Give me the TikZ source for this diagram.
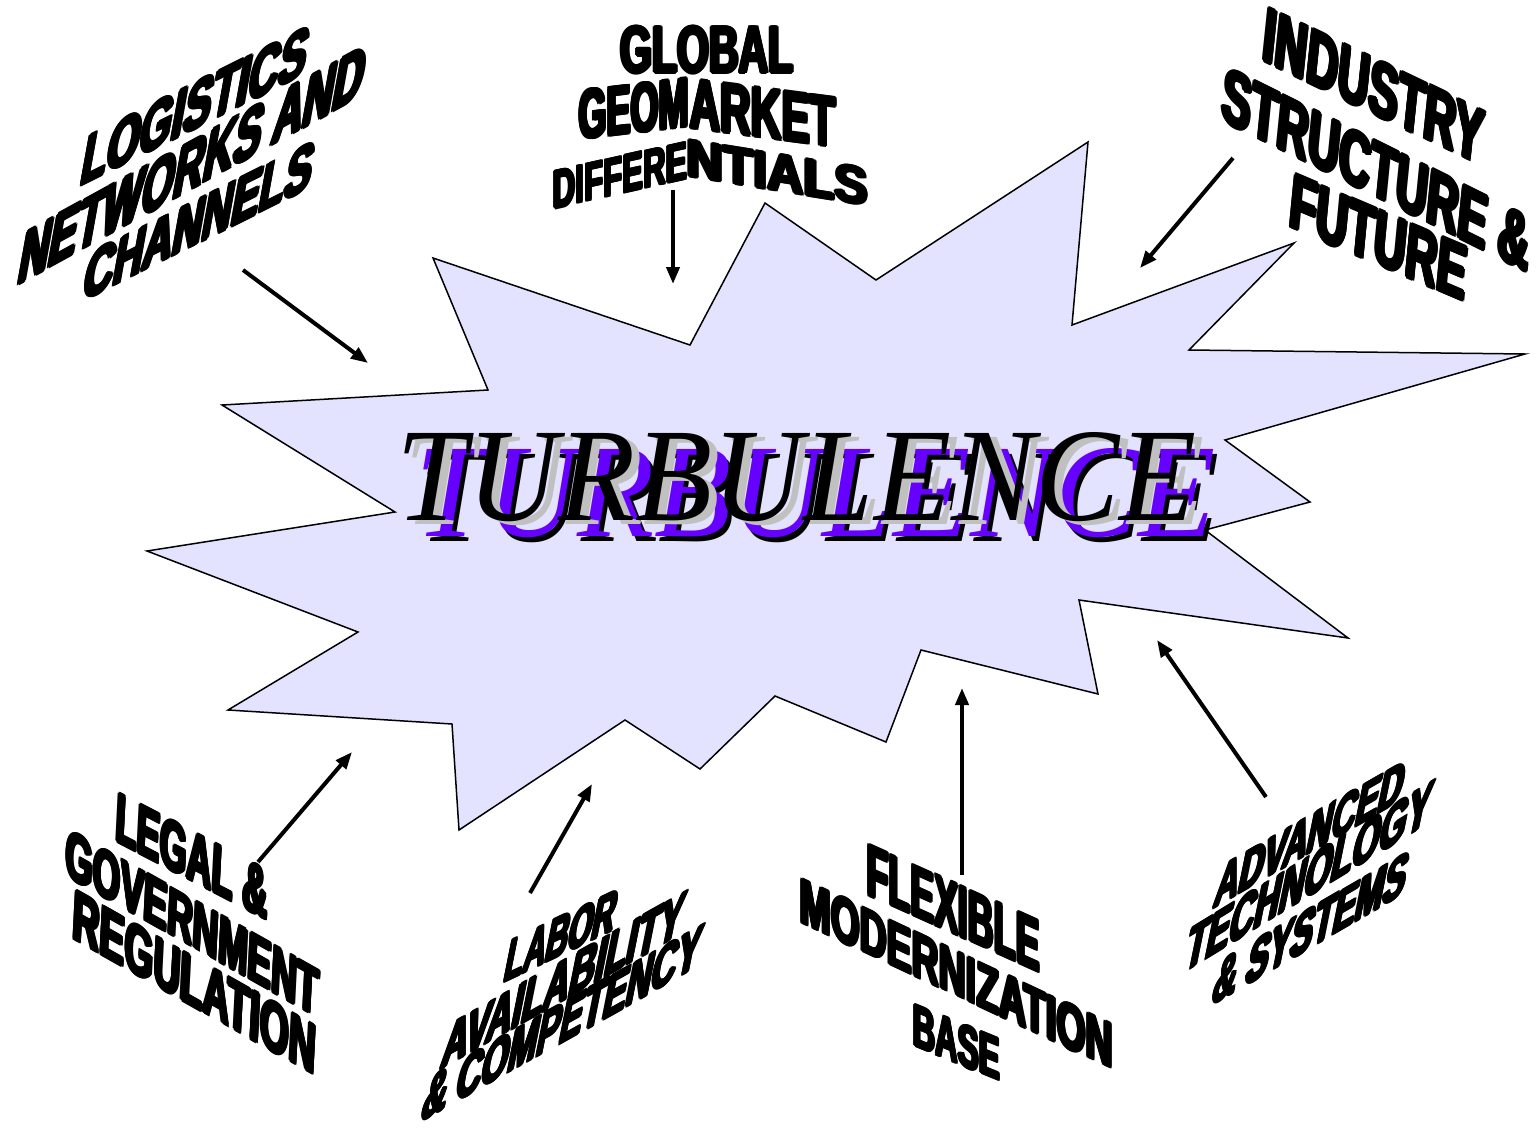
\documentclass[tikz,border=0pt]{standalone}
\usepackage{graphicx}
\usepackage{fontspec}
\setmainfont{Liberation Sans}
\newfontfamily\wafont{Liberation Sans}
\newfontfamily\turbfont{Liberation Serif}
\usetikzlibrary{arrows.meta}
\definecolor{starfill}{RGB}{227,227,255}
\definecolor{turbpurple}{RGB}{102,0,255}
\definecolor{turbgray}{RGB}{192,192,192}
% heavy letters: the text laid over itself with small shifts
\newcommand\fatcopy[3]{\rlap{\kern#1\raisebox{#2}{#3}}}
\newcommand\fat[1]{\fatcopy{-.42pt}{0pt}{#1}\fatcopy{.42pt}{0pt}{#1}%
  \fatcopy{0pt}{.25pt}{#1}\fatcopy{0pt}{-.25pt}{#1}%
  \fatcopy{-.3pt}{.18pt}{#1}\fatcopy{.3pt}{.18pt}{#1}%
  \fatcopy{-.3pt}{-.18pt}{#1}\fatcopy{.3pt}{-.18pt}{#1}#1}
\newcommand\wa[1]{\resizebox{100pt}{10pt}{\wafont\bfseries\fat{#1}}}
\newcommand\turbtext{\resizebox{800pt}{88pt}{\turbfont\itshape TURBULENCE}}
\begin{document}
\begin{tikzpicture}[x=1pt,y=-1pt,
  wal/.style={anchor=south, inner sep=0pt, outer sep=0pt},
  turb/.style={anchor=south, inner sep=0pt, outer sep=0pt},
  conn/.style={line width=4pt, -{Triangle[length=17pt,width=13pt]}},
  starshape/.style={draw=black, line width=1.5pt, fill=starfill, line join=miter}]
\fill[white] (0,0) rectangle (1538,1135);
\useasboundingbox (0,0) rectangle (1538,1135);

% star burst
\draw[starshape] (433,258) -- (690,345) -- (765,203) -- (876,280) -- (1088,142)
  -- (1072,325) -- (1294,243) -- (1189,350) -- (1525,354) -- (1225,440)
  -- (1310,502) -- (1205,530) -- (1348,638) -- (1079,600) -- (1098,694)
  -- (921,650) -- (886,742) -- (775,696) -- (700,769) -- (625,720)
  -- (459,830) -- (452,724) -- (228,710) -- (358,632) -- (147,551)
  -- (395,512) -- (222,405) -- (488,390) -- cycle;

% TURBULENCE layers
\node[turb, text=black] (turbA) at (820,543) {\turbtext};
\node[turb, text=turbpurple] (turbB) at (816,538) {\turbtext};
\node[turb, text=turbgray] (turbC) at (805,526) {\turbtext};
\node[turb, text=black] (turbD) at (797,522) {\turbtext};

% top-left label
\node[wal, cm={2.25,1.125,0.94,5.2,(0,0)}] (log1) at (191,133) {\wa{LOGISTICS}};
\node[wal, cm={3.44,1.89,0.99,5.5,(0,0)}] (log2) at (188,193.5) {\wa{NETWORKS AND}};
\node[wal, cm={2.28,1.14,0.9,5.0,(0,0)}] (log3) at (195,247) {\wa{CHANNELS}};

% top-centre label
\node[wal, cm={1.73,0,0,4.8,(0,0)}] (glo1) at (707,75) {\wa{GLOBAL}};
\node[wal, cm={1.10,0.13,0,5.0,(0,0)}] (glo2a) at (634,135) {\wa{GEOM}};
\node[wal, cm={1.46,-0.19,0,5.0,(0,0)}] (glo2b) at (763,139) {\wa{ARKET}};
\node[wal, cm={1.34,0.30,0,3.8,(0,0)}] (glo3a) at (620,195) {\wa{DIFFERE}};
\node[wal, cm={1.81,-0.29,0,3.8,(0,0)}] (glo3b) at (777.5,192.5) {\wa{NTIALS}};

% top-right label
\node[wal, cm={2.19,-1.05,0.57,5.5,(0,0)}] (ind1) at (1371,115) {\wa{INDUSTRY}};
\node[wal, cm={3.07,-1.525,0.55,5.5,(0,0)}] (ind2) at (1374,198) {\wa{STRUCTURE \&}};
\node[wal, cm={1.76,-0.75,0.52,5.4,(0,0)}] (ind3) at (1376,266) {\wa{FUTURE}};

% bottom-left label
\node[wal, cm={1.52,-0.79,0.25,5.0,(0,0)}] (leg1) at (191,882.5) {\wa{LEGAL \&}};
\node[wal, cm={2.53,-1.425,0.235,4.8,(0,0)}] (leg2) at (191,948) {\wa{GOVERNMENT}};
\node[wal, cm={2.43,-1.374,0.25,5.0,(0,0)}] (leg3) at (193.5,1008.7) {\wa{REGULATION}};

% bottom centre-left label
\node[wal, cm={1.10,0.52,0.88,4.4,(0,0)}] (lab1) at (557,959) {\wa{LABOR}};
\node[wal, cm={2.40,1.35,0.92,4.6,(0,0)}] (lab2) at (559.5,1004) {\wa{AVAILABILITY}};
\node[wal, cm={2.77,1.55,0.92,4.6,(0,0)}] (lab3) at (558,1047) {\wa{\& COMPETENCY}};

% bottom centre-right label
\node[wal, cm={1.73,-0.78,0,5.2,(0,0)}] (flx1) at (953.5,935) {\wa{FLEXIBLE}};
\node[wal, cm={3.13,-1.47,0,4.6,(0,0)}] (flx2) at (956.5,997.6) {\wa{MODERNIZATION}};
\node[wal, cm={0.87,-0.357,0,4.3,(0,0)}] (flx3) at (956.5,1065) {\wa{BASE}};

% bottom-right label
\node[wal, cm={1.88,1.08,0.9,4.4,(0,0)}] (adv1) at (1306,857) {\wa{ADVANCED}};
\node[wal, cm={2.44,1.49,0.96,4.7,(0,0)}] (adv2) at (1304.5,901) {\wa{TECHNOLOGY}};
\node[wal, cm={1.93,1.12,0.92,4.6,(0,0)}] (adv3) at (1306.5,952) {\wa{\& SYSTEMS}};

% arrow end points
\coordinate (a1s) at (243,270);  \coordinate (a1e) at (368,363);
\coordinate (a2s) at (673,190);  \coordinate (a2e) at (673,284);
\coordinate (a3s) at (1233,158); \coordinate (a3e) at (1140,268);
\coordinate (a4s) at (258,862);  \coordinate (a4e) at (352,752);
\coordinate (a5s) at (530,893);  \coordinate (a5e) at (592,784);
\coordinate (a6s) at (962,875);  \coordinate (a6e) at (962,688);
\coordinate (a7s) at (1266,797); \coordinate (a7e) at (1157,640);

\draw[conn] (a1s) -- (a1e);
\draw[conn] (a2s) -- (a2e);
\draw[conn] (a3s) -- (a3e);
\draw[conn] (a4s) -- (a4e);
\draw[conn] (a5s) -- (a5e);
\draw[conn] (a6s) -- (a6e);
\draw[conn] (a7s) -- (a7e);
\end{tikzpicture}
\end{document}
